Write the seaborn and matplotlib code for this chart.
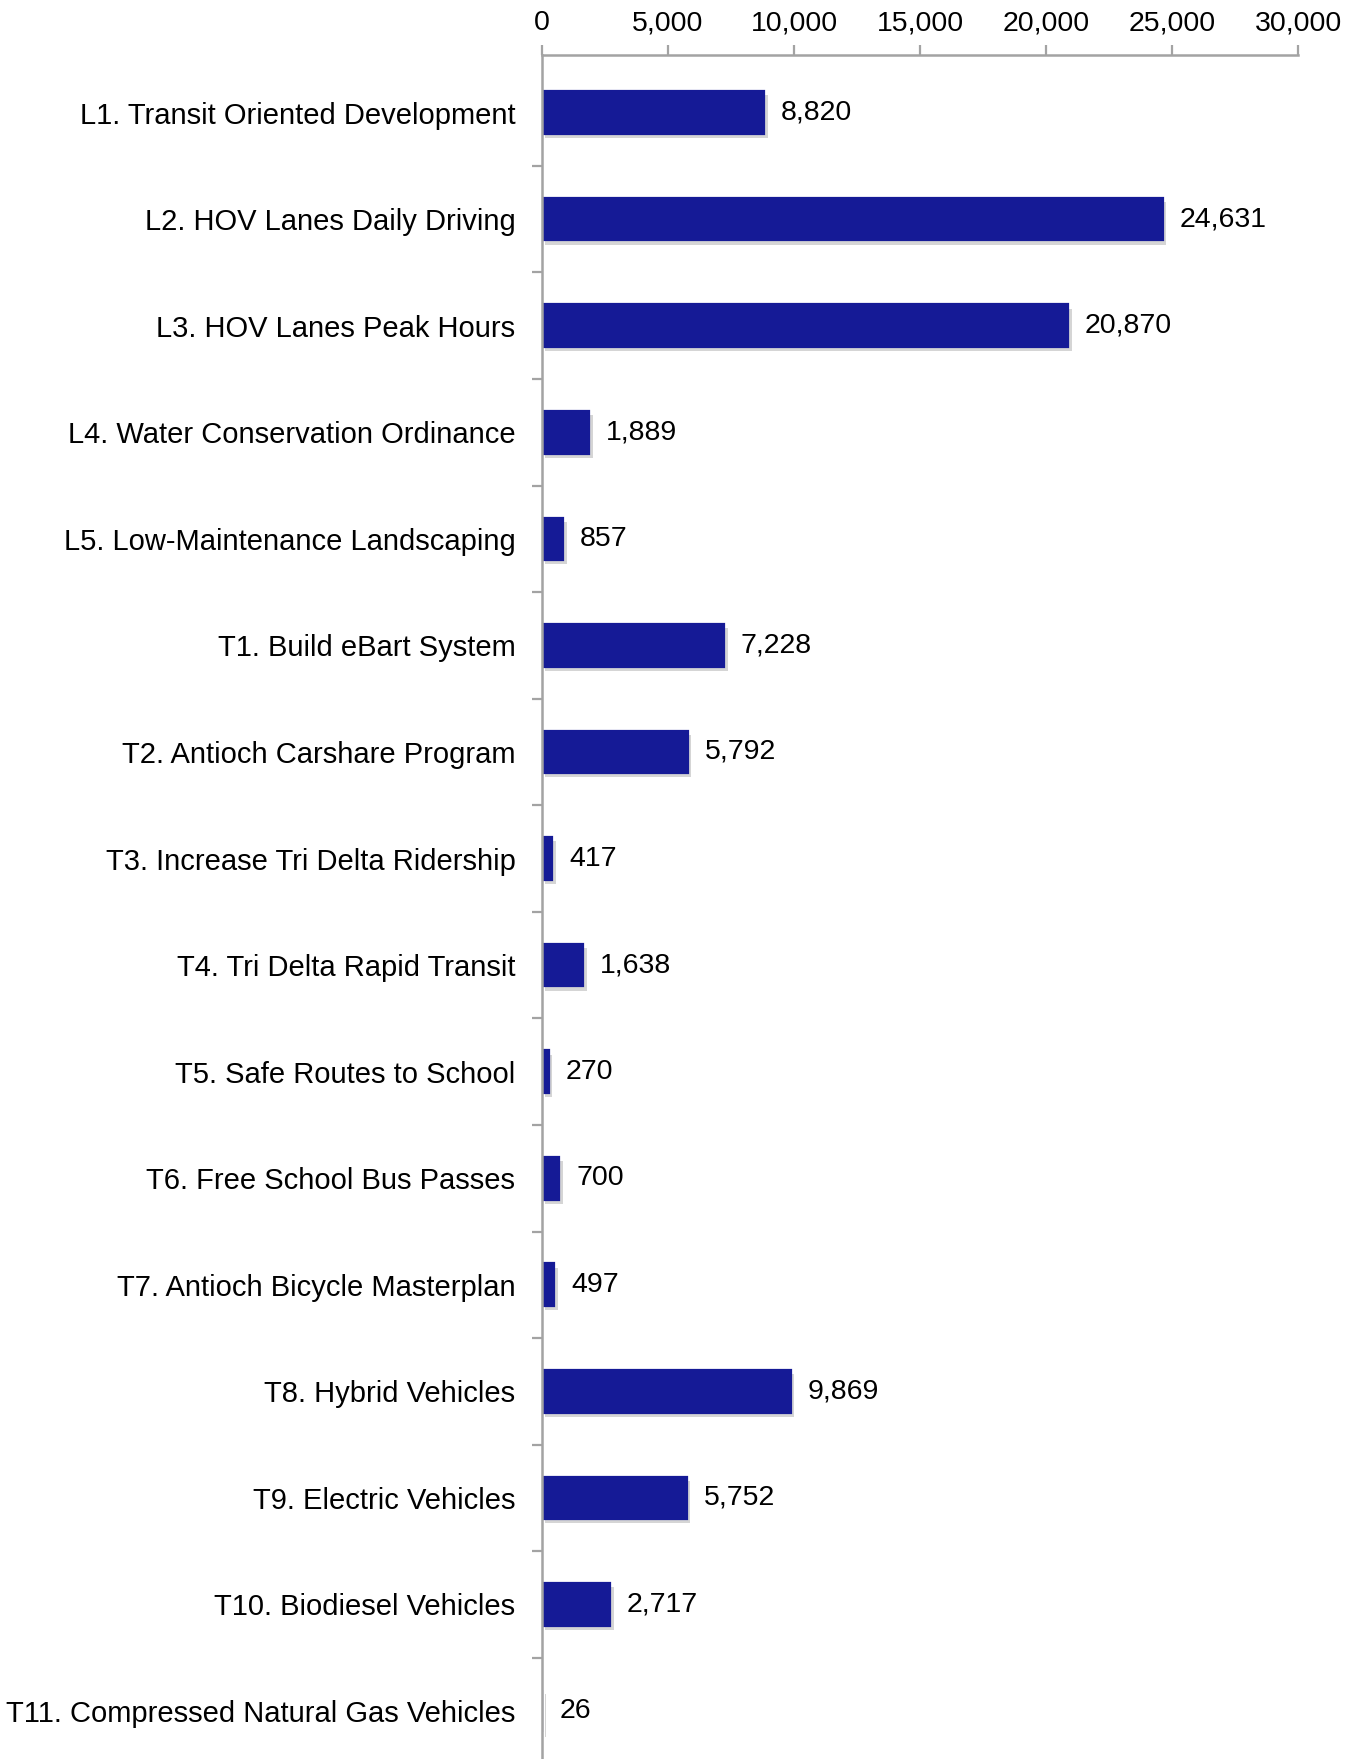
import matplotlib
matplotlib.use('Agg')
import matplotlib.pyplot as plt
import matplotlib.patheffects as pe
import seaborn as sns
import numpy as np
import pandas as pd

sns.set_theme(style='white')
plt.rcParams['font.family'] = ['Liberation Sans', 'DejaVu Sans']
plt.rcParams['text.color'] = 'black'
plt.rcParams['xtick.labelcolor'] = 'black'
plt.rcParams['ytick.labelcolor'] = 'black'

# Data
measures = [
    'L1. Transit Oriented Development',
    'L2. HOV Lanes Daily Driving',
    'L3. HOV Lanes Peak Hours',
    'L4. Water Conservation Ordinance',
    'L5. Low-Maintenance Landscaping',
    'T1. Build eBart System',
    'T2. Antioch Carshare Program',
    'T3. Increase Tri Delta Ridership',
    'T4. Tri Delta Rapid Transit',
    'T5. Safe Routes to School',
    'T6. Free School Bus Passes',
    'T7. Antioch Bicycle Masterplan',
    'T8. Hybrid Vehicles',
    'T9. Electric Vehicles',
    'T10. Biodiesel Vehicles',
    'T11. Compressed Natural Gas Vehicles',
]
reductions = [8820, 24631, 20870, 1889, 857, 7228, 5792, 417, 1638,
              270, 700, 497, 9869, 5752, 2717, 26]
xticks = [0, 5000, 10000, 15000, 20000, 25000, 30000]

df = pd.DataFrame({'measure': measures, 'value': reductions})

bar_color = '#151a96'
axis_gray = '#a3a3a3'
fs = 20.5

fig = plt.figure(figsize=(13.58, 17.59), dpi=100)
ax = fig.add_axes([0.399, 0.0, 0.557, 0.969])

sns.barplot(data=df, x='value', y='measure', orient='h', color=bar_color,
            saturation=1, width=0.4, linewidth=1.6, edgecolor=bar_color,
            ax=ax)

# soft drop shadow like the original
for patch in ax.patches:
    patch.set_path_effects([
        pe.SimplePatchShadow(offset=(2.5, -3), shadow_rgbFace='#777777',
                             alpha=0.3),
        pe.Normal(),
    ])

labels = [f"{v:,}" for v in reductions]
ax.bar_label(ax.containers[0], labels=labels, padding=12, fontsize=fs,
             color='black')

ax.set_xlim(0, 30000)
ax.set_ylim(len(measures) - 0.55, -0.545)

ax.xaxis.tick_top()
ax.set_xticks(xticks)
ax.set_xticklabels([f"{t:,}" for t in xticks], fontsize=fs)
ax.tick_params(axis='x', which='major', direction='out', length=7,
               width=1.6, color=axis_gray, pad=6, top=True, bottom=False)

# labels at category centres, tick marks at the boundaries
ax.tick_params(axis='y', which='major', length=0, pad=19, labelsize=21)
ax.set_yticks(np.arange(len(measures) - 1) + 0.5, minor=True)
ax.tick_params(axis='y', which='minor', direction='out', length=7,
               width=1.6, color=axis_gray, left=True)

ax.set_xlabel('')
ax.set_ylabel('')
for side in ['right', 'bottom']:
    ax.spines[side].set_visible(False)
for side in ['left', 'top']:
    ax.spines[side].set_color(axis_gray)
    ax.spines[side].set_linewidth(1.8)

plt.savefig('out.png', dpi=100)
